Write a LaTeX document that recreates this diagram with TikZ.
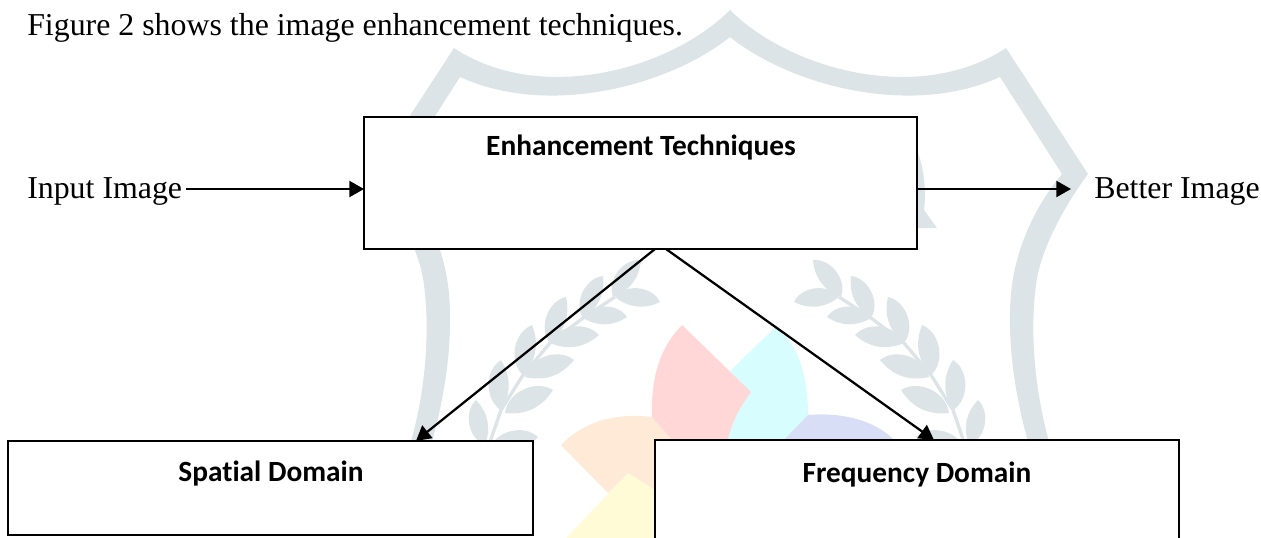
\documentclass[tikz,border=0pt]{standalone}
\usepackage{fontspec}
\setmainfont{Liberation Serif}
\newfontfamily\boxfont[Ligatures=NoCommon]{Carlito}
\usetikzlibrary{arrows.meta,calc}
\definecolor{wmgray}{HTML}{DDE4E7}
\definecolor{wmred}{HTML}{FFD7D7}
\definecolor{wmcyan}{HTML}{D7FDFF}
\definecolor{wmblue}{HTML}{D8DEF5}
\definecolor{wmorange}{HTML}{FFE9D7}
\definecolor{wmyellow}{HTML}{FFFBD7}
\newcommand{\wmleaf}[4]{\fill[wmgray] (#1,#2) to[bend left=58] (#3,#4) to[bend left=32] (#1,#2);}
\newcommand{\wmshieldhalf}{%
  \fill[wmgray] (730,10) .. controls (790,70) and (920,105) .. (1006,48)
    -- (1088,174) .. controls (1065,205) and (1040,250) .. (1036,285)
    .. controls (1030,330) and (1034,390) .. (1050,445)
    -- (1029,445) .. controls (1013,390) and (1006,330) .. (1012,285)
    .. controls (1018,240) and (1040,200) .. (1062,174)
    -- (1000,77) .. controls (910,118) and (790,85) .. (730,37) -- cycle;}
\newcommand{\wmlaurel}{%
  \wmleaf{813}{260}{841}{297}\wmleaf{794}{302}{839}{297}
  \wmleaf{851}{276}{871}{318}\wmleaf{827}{317}{871}{318}
  \wmleaf{888}{297}{904}{343}\wmleaf{855}{335}{904}{343}
  \wmleaf{922}{325}{931}{375}\wmleaf{880}{360}{929}{377}
  \wmleaf{953}{360}{953}{410}\wmleaf{901}{390}{949}{413}
  \wmleaf{978}{400}{969}{445}\wmleaf{916}{437}{965}{450}
  \draw[wmgray,line width=2.5pt] (839,297) -- (871,318) -- (904,343) -- (931,375) -- (953,410) -- (965,445);}
\tikzset{
  boxnode/.style={draw=black,fill=white,line width=1.4pt,inner sep=0pt,outer sep=0pt},
  boxtitle/.style={font=\boxfont\bfseries\fontsize{22}{26}\selectfont,inner sep=0pt,anchor=base},
  plainlabel/.style={font=\fontsize{23.9}{28}\selectfont,inner sep=0pt,anchor=base west},
  conn/.style={draw=black,line width=1.7pt,-{Triangle[length=11pt,width=12pt]}}
}
\begin{document}
\begin{tikzpicture}[x=0.75pt,y=-0.75pt]
\useasboundingbox (0,0) rectangle (1261,537);
\clip (0,0) rectangle (1261,537);
\fill[white] (0,0) rectangle (1261,537);
% watermark
\wmshieldhalf
\begin{scope}[xshift=1095pt,xscale=-1]\wmshieldhalf\end{scope}
\wmlaurel
\begin{scope}[xshift=1090.5pt,xscale=-1]\wmlaurel\end{scope}
\fill[wmgray] (917,150) .. controls (925,170) and (926,195) .. (924,210) -- (937,228) -- (917,228) -- cycle;
\fill[wmcyan] (775.5,327) -- (725,376) -- (725,450) -- (784,440) -- (808,415)
  .. controls (808,380) and (800,345) .. (775.5,327) -- cycle;
\fill[wmblue] (808,415) -- (784,440) -- (784,450) -- (894,450) -- (894,440) .. controls (875,420) and (840,412) .. (808,415) -- cycle;
\fill[wmorange] (561,445) .. controls (580,425) and (610,412) .. (652,417) -- (690,460) -- (670,500) -- (655,490) -- (628,473) -- (608,493) -- cycle;
\fill[wmred] (682,325) -- (751,392) .. controls (738,410) and (730,425) .. (727,445) -- (690,460) -- (652,417)
  .. controls (651,380) and (658,350) .. (682,325) -- cycle;
\fill[wmyellow] (628,473) -- (567,537) -- (567,545) -- (670,545) -- (670,500) -- (655,490) -- cycle;
% text
\node[plainlabel] (head) at (27,35) {Figure 2 shows the image enhancement techniques.};
\node[plainlabel] (inp) at (27,198) {Input Image};
\node[plainlabel] (out) at (1094,198) {Better Image};
% boxes
\node[boxnode,minimum width=414.75pt,minimum height=99pt] (enh) at (640.5,183) {};
\node[boxnode,minimum width=394pt,minimum height=70.7pt] (spa) at (270.5,488) {};
\node[boxnode,minimum width=393pt,minimum height=90pt] (fre) at (917,500) {};
\node[boxtitle] (enht) at (641,155) {Enhancement Techniques};
\node[boxtitle] (spat) at (271,481) {Spatial Domain};
\node[boxtitle] (fret) at (917,482) {Frequency Domain};
% connectors
\coordinate (enhw) at ($(enh.west)+(0,6)$);
\coordinate (enhe) at ($(enh.east)+(0,6)$);
\coordinate (outend) at ($(out.west |- enhe)+(-23,0)$);
\draw[conn] ([xshift=3pt]inp.east |- enhw) -- (enhw);
\draw[conn] (enhe) -- (outend);
\draw[conn] ($(enh.south)+(14.5,0)$) -- ($(spa.north)+(145.5,0)$);
\draw[conn] ($(enh.south)+(25.5,0)$) -- ($(fre.north)+(17,0)$);
\end{tikzpicture}
\end{document}
